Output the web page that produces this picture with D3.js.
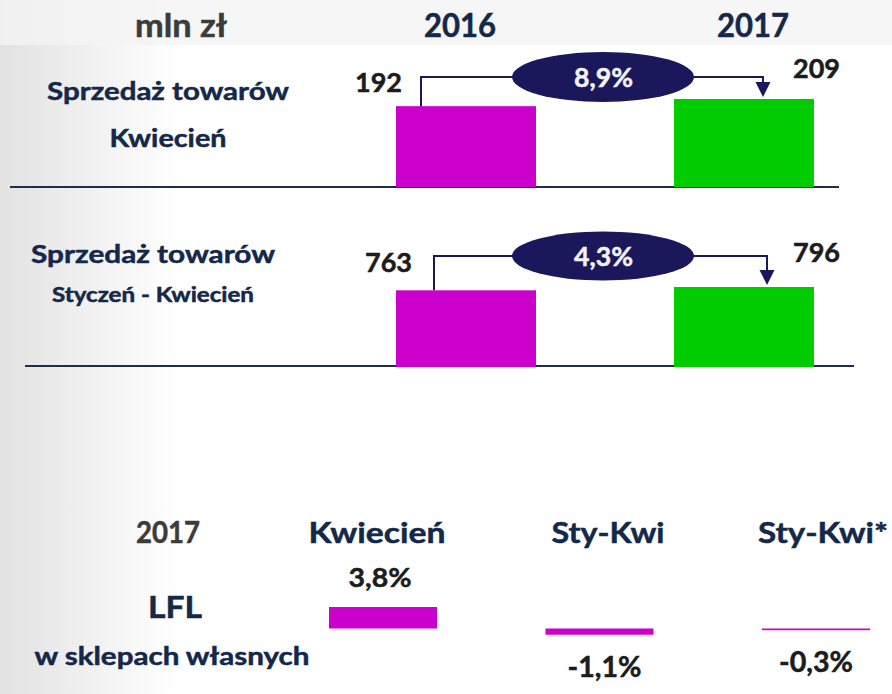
<!DOCTYPE html>
<html><head><meta charset="utf-8">
<script src="https://cdn.jsdelivr.net/npm/d3@7"></script>
<style>html,body{margin:0;padding:0;background:#fff;}svg{display:block;font-family:Lato,"Open Sans",sans-serif;font-weight:700;}</style>
</head><body>
<svg id="c" width="892" height="694"></svg>
<script>
// ---- data ----
const years = ["2016", "2017"];
const salesApril = [192, 209];
const salesYTD = [763, 796];
const changeApril = 8.9;
const changeYTD = 4.3;
const lflCategories = ["Kwiecień", "Sty-Kwi", "Sty-Kwi*"];
const lflValues = [3.8, -1.1, -0.3];

const pl = d3.formatLocale({decimal: ",", thousands: " ", grouping: [3], currency: ["", " zł"], minus: "-"});
const fPct = v => pl.format(".1f")(v) + "%";

const svg = d3.select("#c");
const W = 892, H = 694;
const NAVY = "#14284a", GRAY = "#3b3b3b", BLACK = "#1c1c1c", MAG = "#cc00cc", GRN = "#00cc00", ELL = "#1a175a";

// background
const defs = svg.append("defs");
const lg = defs.append("linearGradient").attr("id", "bg").attr("x1", 0).attr("x2", 1).attr("y1", 0).attr("y2", 0);
lg.append("stop").attr("offset", 0).attr("stop-color", "#e2e2e2");
lg.append("stop").attr("offset", 0.2).attr("stop-color", "#ffffff");
lg.append("stop").attr("offset", 1).attr("stop-color", "#ffffff");
svg.append("rect").attr("width", W).attr("height", H).attr("fill", "url(#bg)");
svg.append("rect").attr("width", W).attr("height", 45).attr("fill", "#f4f4f4").attr("opacity", 0.8);

// text helper: cap height -> font size, width via textLength
const CAP = 0.7165;
function txt(s, cx, by, w, capH, color, anchor) {
  return svg.append("text").text(s).attr("x", cx).attr("y", by)
    .attr("fill", color).attr("stroke", color).attr("stroke-width", 0.5)
    .attr("text-anchor", anchor || "middle")
    .attr("font-size", (capH / CAP).toFixed(2))
    .attr("textLength", w).attr("lengthAdjust", "spacingAndGlyphs");
}

// ---- top panels ----
const x = d3.scalePoint().domain(years).range([466, 744]);
const barW = 140;

const panels = [
  {vals: salesApril, change: changeApril, base: 187, y: d3.scaleLinear().domain([0, 209]).range([187, 99]),
   lineL: [10, 839], connX: [421, 763], connY: 77, ell: [603, 77, 91, 25],
   labels: [[402, 92, "end"], [793, 78, "start"]]},
  {vals: salesYTD, change: changeYTD, base: 366, y: d3.scaleLinear().domain([0, 796]).range([367, 287]),
   lineL: [25, 854], connX: [434, 767], connY: 256, ell: [603, 256, 91, 24.5],
   labels: [[412, 272, "end"], [793, 262, "start"]]}
];

panels.forEach(p => {
  svg.append("line").attr("x1", p.lineL[0]).attr("x2", p.lineL[1]).attr("y1", p.base).attr("y2", p.base)
    .attr("stroke", "#1f2d4d").attr("stroke-width", 2);
  svg.selectAll(null).data(years.map((yr, i) => ({yr, v: p.vals[i]}))).enter().append("rect")
    .attr("x", d => x(d.yr) - barW / 2).attr("width", barW)
    .attr("y", d => p.y(d.v)).attr("height", d => p.y(0) - p.y(d.v))
    .attr("fill", (d, i) => i === 0 ? MAG : GRN);
  // connector
  const y0 = p.y(p.vals[0]), y1 = p.y(p.vals[1]);
  const tipY = y1 - 2;
  svg.append("path").attr("fill", "none").attr("stroke", ELL).attr("stroke-width", 2)
    .attr("d", `M${p.connX[0]},${y0}V${p.connY}H${p.connX[1]}V${tipY - 13}`);
  svg.append("path").attr("fill", ELL)
    .attr("d", `M${p.connX[1] - 7.5},${tipY - 15}H${p.connX[1] + 7.5}L${p.connX[1]},${tipY}Z`);
  svg.append("ellipse").attr("cx", p.ell[0]).attr("cy", p.ell[1]).attr("rx", p.ell[2]).attr("ry", p.ell[3]).attr("fill", ELL);
  txt(fPct(p.change), p.ell[0] + 0.5, p.ell[1] + 10, 59, 19.7, "#f2f2f2");
  p.vals.forEach((v, i) => {
    const L = p.labels[i];
    txt(String(v), L[0], L[1], 47, 19, BLACK, L[2]);
  });
});

// headers
txt("mln zł", 181, 37, 92, 23, GRAY);
txt(years[0], 460, 37, 72, 23, NAVY);
txt(years[1], 753, 37, 72, 23, NAVY);
txt("Sprzedaż towarów", 168, 100, 242, 18.3, NAVY);
txt("Kwiecień", 168, 147, 117, 18.3, NAVY);
txt("Sprzedaż towarów", 153, 263, 244, 18.3, NAVY);
txt("Styczeń - Kwiecień", 153, 302, 202, 14.3, NAVY);

// ---- LFL panel ----
const xl = d3.scalePoint().domain(lflCategories).range([383, 816]);
const xh = d3.scalePoint().domain(lflCategories).range([377, 823]);
const yl = d3.scaleLinear().domain([0, 3.8]).range([628.5, 607]);
const lw = 108;
svg.selectAll(null).data(lflCategories.map((c, i) => ({c, v: lflValues[i]}))).enter().append("rect")
  .attr("x", d => xl(d.c) - lw / 2).attr("width", lw)
  .attr("y", d => Math.min(yl(d.v), yl(0)))
  .attr("height", d => Math.abs(yl(d.v) - yl(0)))
  .attr("fill", MAG);

txt("2017", 168, 543, 64, 21.7, GRAY);
txt("LFL", 175, 618, 54, 21.7, NAVY);
txt("w sklepach własnych", 172, 665, 275, 17.5, NAVY);
const headW = [137, 113, 130];
lflCategories.forEach((c, i) => {
  txt(c, xh(c) + (i === 1 ? 8 : 0), 543, headW[i], 21, NAVY);
  const v = lflValues[i];
  const by = v >= 0 ? yl(v) - 20 : yl(v) + 42;
  txt(fPct(v), xl(c) + (i === 0 ? -3 : (i === 1 ? 5 : 0)), by, v >= 0 ? 63 : 74, v >= 0 ? 19 : 20, BLACK);
});
</script>
</body></html>
